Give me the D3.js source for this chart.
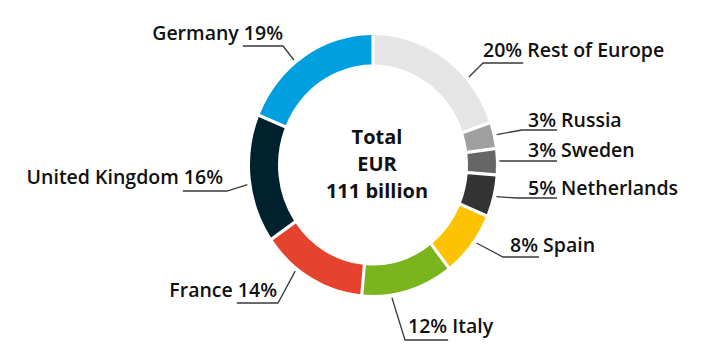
<!DOCTYPE html>
<html><head><meta charset="utf-8">
<script src="https://cdn.jsdelivr.net/npm/d3@7"></script>
<style>
html,body{margin:0;padding:0;background:#fff;}
svg{display:block;}
text{font-family:"Open Sans",sans-serif;font-weight:600;fill:#111;}
</style></head>
<body>
<svg id="chart" width="728" height="358"></svg>
<script>
// ---- data ----
const categories = ["Rest of Europe","Russia","Sweden","Netherlands","Spain","Italy","France","United Kingdom","Germany"];
const shares = [20,3,3,5,8,12,14,16,19];
const colors = ["#e5e5e5","#9f9f9f","#666666","#333333","#fdc300","#7ab51d","#e6432e","#00212e","#009fe0"];
const centerLines = ["Total","EUR","111 billion"];

// ---- label layout (positions only) ----
const labelLayout = {
  "Rest of Europe": {t:0.69, side:"r", tx:483, ty:57,  ex:483, ey:63},
  "Russia":         {t:0.5,  side:"r", tx:528, ty:127, ex:522, ey:130},
  "Sweden":         {t:0.5,  side:"r", tx:528, ty:157, ex:500, ey:161},
  "Netherlands":    {t:0.5,  side:"r", tx:528, ty:195, ex:517, ey:198},
  "Spain":          {t:0.43, side:"r", tx:510, ty:252, ex:503, ey:257},
  "Italy":          {t:0.68, side:"r", tx:408, ty:333, ex:405, ey:340},
  "France":         {t:0.65, side:"l", tx:277, ty:297, ex:278, ey:303},
  "United Kingdom": {t:0.46, side:"l", tx:223, ty:184, ex:227, ey:191},
  "Germany":        {t:0.43, side:"l", tx:283, ty:40,  ex:283, ey:46}
};

const cx = 373, cy = 165, rOut = 123, rIn = 95, ky = 130/123;
const svg = d3.select("#chart");

const pie = d3.pie().sort(null).value(d => d.v).startAngle(0).endAngle(2*Math.PI).padAngle(0.02);
const arcs = pie(categories.map((c,i) => ({c, v:shares[i], col:colors[i]})));
const arc = d3.arc().innerRadius(rIn).outerRadius(rOut);

const g = svg.append("g").attr("transform", `translate(${cx},${cy}) scale(1,${ky})`);
g.selectAll("path").data(arcs).join("path").attr("d", arc).attr("fill", d => d.data.col);

// center text
svg.append("g").selectAll("text").data(centerLines).join("text")
  .attr("x", cx+4).attr("y", (d,i) => 144 + i*27)
  .attr("text-anchor","middle").attr("font-size", 20).attr("font-weight", 700)
  .style("font-weight", 700).text(d => d);

// labels + leaders
const lab = svg.append("g");
arcs.forEach(d => {
  const L = labelLayout[d.data.c];
  const a = d.startAngle + L.t*(d.endAngle - d.startAngle);
  const r = rOut + 4;
  const sx = cx + r*Math.sin(a), sy = cy - r*ky*Math.cos(a);
  const pct = d.data.v + "%";
  const t = lab.append("text").attr("font-size", 19.5).attr("y", L.ty);
  let pctSpan;
  if (L.side === "r") {
    t.attr("x", L.tx).attr("text-anchor","start");
    pctSpan = t.append("tspan").text(pct);
    t.append("tspan").text(" " + d.data.c);
  } else {
    t.attr("x", L.tx).attr("text-anchor","end");
    t.append("tspan").text(d.data.c + " ");
    pctSpan = t.append("tspan").text(pct);
  }
  const w = pctSpan.node().getComputedTextLength();
  let hx;
  if (L.side === "r") hx = Math.max(L.tx + w, L.ex + 20) + 1;
  else hx = Math.min(L.tx - w, L.ex - 20) - 1;
  lab.append("path")
    .attr("d", `M${sx},${sy}L${L.ex},${L.ey}L${hx},${L.ey}`)
    .attr("fill","none").attr("stroke","#3a3a3a").attr("stroke-width",1.3);
});
</script>
</body></html>
